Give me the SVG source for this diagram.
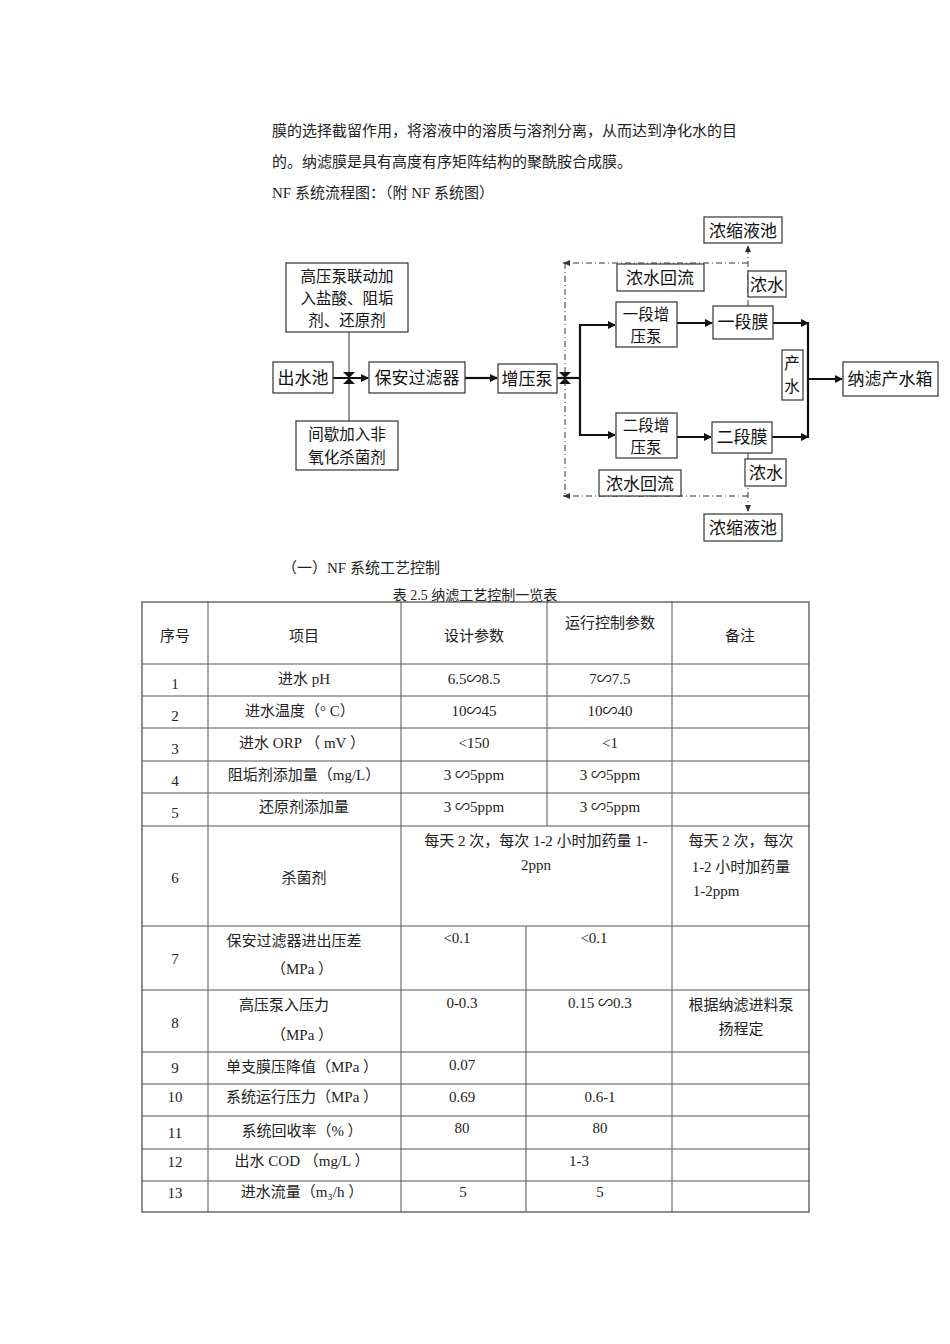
<svg xmlns="http://www.w3.org/2000/svg" width="950" height="1344" viewBox="0 0 950 1344">
<style>
.t{font-family:"Liberation Serif","Noto Sans CJK SC",serif;font-size:15px;fill:#222}
.n{font-family:"Noto Sans CJK SC",sans-serif;font-size:17px;fill:#111}
.m{font-family:"Noto Sans CJK SC",sans-serif;font-size:15.5px;fill:#111}
.bx{fill:#fff;stroke:#333;stroke-width:1.2}
.ln{stroke:#111;stroke-width:2.2;fill:none}
.th{stroke:#333;stroke-width:1;fill:none}
.dd{stroke:#333;stroke-width:1;fill:none;stroke-dasharray:6 3 1 3}
.g{stroke:#555;stroke-width:1}
.c{text-anchor:middle}
</style>
<defs>
<marker id="a" markerWidth="8" markerHeight="8" refX="7" refY="4" orient="auto" markerUnits="userSpaceOnUse"><path d="M0,0L8,4L0,8z" fill="#111"/></marker>
<marker id="s" markerWidth="8" markerHeight="8" refX="7" refY="4" orient="auto" markerUnits="userSpaceOnUse"><path d="M0,1L7,4L0,7z" fill="#333"/></marker>
</defs>
<rect width="950" height="1344" fill="#fff"/>
<text class="t" x="272" y="136">膜的选择截留作用，将溶液中的溶质与溶剂分离，从而达到净化水的目</text>
<text class="t" x="272" y="167">的。纳滤膜是具有高度有序矩阵结构的聚酰胺合成膜。</text>
<text class="t" x="272" y="198">NF 系统流程图：（附 NF 系统图）</text>

<g id="connectors">
<line class="th" x1="349" y1="332" x2="349" y2="421"/>
<line class="ln" x1="333" y1="378" x2="368" y2="378" marker-end="url(#a)"/>
<path d="M343,372L355,372L343,384L355,384z" fill="#111"/>
<line class="ln" x1="465" y1="378" x2="497" y2="378" marker-end="url(#a)"/>
<line class="ln" x1="557" y1="378" x2="580" y2="378"/>
<path d="M559,372L571,372L559,384L571,384z" fill="#111"/>
<polyline class="ln" points="615,325 580,325 580,435 615,435"/>
<line class="ln" x1="580" y1="325" x2="615" y2="325" marker-end="url(#a)"/>
<line class="ln" x1="580" y1="435" x2="615" y2="435" marker-end="url(#a)"/>
<line class="ln" x1="677" y1="323" x2="712" y2="323" marker-end="url(#a)"/>
<line class="ln" x1="677" y1="437" x2="711" y2="437" marker-end="url(#a)"/>
<line class="ln" x1="773" y1="323" x2="808" y2="323" marker-end="url(#a)"/>
<line class="ln" x1="772" y1="437" x2="808" y2="437" marker-end="url(#a)"/>
<line class="ln" x1="808" y1="322" x2="808" y2="438"/>
<line class="ln" x1="808" y1="379" x2="842" y2="379" marker-end="url(#a)"/>
<line class="dd" x1="748" y1="306" x2="748" y2="245" marker-end="url(#s)"/>
<line class="dd" x1="748" y1="453" x2="748" y2="512" marker-end="url(#s)"/>
<line class="dd" x1="748" y1="263" x2="563" y2="263" marker-end="url(#s)"/>
<line class="dd" x1="748" y1="496" x2="563" y2="496" marker-end="url(#s)"/>
<line class="dd" x1="565" y1="263" x2="565" y2="496"/>
</g>

<g id="n1"><rect class="bx" x="286" y="263" width="122" height="69"/><text class="m c" x="347" y="282">高压泵联动加</text><text class="m c" x="347" y="304">入盐酸、阻垢</text><text class="m c" x="347" y="326">剂、还原剂</text></g>
<g id="n2"><rect class="bx" x="273" y="362" width="60" height="31"/><text class="n c" x="303" y="384">出水池</text></g>
<g id="n3"><rect class="bx" x="369" y="362" width="96" height="31"/><text class="n c" x="417" y="384">保安过滤器</text></g>
<g id="n4"><rect class="bx" x="498" y="364" width="59" height="29"/><text class="n c" x="527" y="385">增压泵</text></g>
<g id="n5"><rect class="bx" x="296" y="421" width="102" height="49"/><text class="m c" x="347" y="440">间歇加入非</text><text class="m c" x="347" y="463">氧化杀菌剂</text></g>
<g id="n6"><rect class="bx" x="616" y="302" width="61" height="45"/><text class="m c" x="646" y="320">一段增</text><text class="m c" x="646" y="342">压泵</text></g>
<g id="n7"><rect class="bx" x="616" y="413" width="61" height="45"/><text class="m c" x="646" y="431">二段增</text><text class="m c" x="646" y="453">压泵</text></g>
<g id="n8"><rect class="bx" x="713" y="306" width="60" height="33"/><text class="n c" x="743" y="328">一段膜</text></g>
<g id="n9"><rect class="bx" x="712" y="422" width="60" height="31"/><text class="n c" x="742" y="443">二段膜</text></g>
<g id="n10"><rect class="bx" x="782" y="350" width="21" height="50"/><text class="m c" x="792" y="369">产</text><text class="m c" x="792" y="392">水</text></g>
<g id="n11"><rect class="bx" x="843" y="362" width="95" height="34"/><text class="n c" x="890" y="385">纳滤产水箱</text></g>
<g id="n12"><rect class="bx" x="704" y="217" width="78" height="26"/><text class="n c" x="743" y="237">浓缩液池</text></g>
<g id="n13"><rect class="bx" x="704" y="514" width="78" height="27"/><text class="n c" x="743" y="534">浓缩液池</text></g>
<g id="n14"><rect class="bx" x="748" y="271" width="38" height="26"/><text class="n c" x="767" y="291">浓水</text></g>
<g id="n15"><rect class="bx" x="745" y="459" width="41" height="27"/><text class="n c" x="766" y="479">浓水</text></g>
<g id="n16"><rect class="bx" x="617" y="264" width="87" height="27"/><text class="n c" x="660" y="284">浓水回流</text></g>
<g id="n17"><rect class="bx" x="599" y="470" width="82" height="26"/><text class="n c" x="640" y="490">浓水回流</text></g>

<text class="t" x="282" y="573">（一）NF 系统工艺控制</text>
<text class="t c" x="475" y="600" style="font-size:14px">表 2.5 纳滤工艺控制一览表</text>

<g id="table">
<rect x="142" y="602" width="667" height="610" fill="none" stroke="#444" stroke-width="1.2"/>
<g class="g">
<line x1="142" y1="664" x2="809" y2="664"/><line x1="142" y1="696" x2="809" y2="696"/><line x1="142" y1="728" x2="809" y2="728"/><line x1="142" y1="761" x2="809" y2="761"/><line x1="142" y1="793" x2="809" y2="793"/><line x1="142" y1="826" x2="809" y2="826"/><line x1="142" y1="926" x2="809" y2="926"/><line x1="142" y1="990" x2="809" y2="990"/><line x1="142" y1="1052" x2="809" y2="1052"/><line x1="142" y1="1084" x2="809" y2="1084"/><line x1="142" y1="1116" x2="809" y2="1116"/><line x1="142" y1="1149" x2="809" y2="1149"/><line x1="142" y1="1181" x2="809" y2="1181"/>
<line x1="208" y1="602" x2="208" y2="1212"/><line x1="401" y1="602" x2="401" y2="1212"/><line x1="547" y1="602" x2="547" y2="826"/><line x1="526" y1="926" x2="526" y2="1212"/><line x1="672" y1="602" x2="672" y2="1212"/>
</g>
<g class="t c">
<text x="175" y="641">序号</text><text x="304" y="641">项目</text><text x="474" y="641">设计参数</text><text x="610" y="628">运行控制参数</text><text x="740" y="641">备注</text>
<text x="175" y="689">1</text><text x="304" y="684">进水 pH</text><text x="474" y="684">6.5∽8.5</text><text x="610" y="684">7∽7.5</text>
<text x="175" y="721">2</text><text x="300" y="716">进水温度（° C）</text><text x="474" y="716">10∽45</text><text x="610" y="716">10∽40</text>
<text x="175" y="754">3</text><text x="302" y="748">进水 ORP （ mV ）</text><text x="474" y="748">&lt;150</text><text x="610" y="748">&lt;1</text>
<text x="175" y="786">4</text><text x="304" y="780">阻垢剂添加量（mg/L）</text><text x="474" y="780">3 ∽5ppm</text><text x="610" y="780">3 ∽5ppm</text>
<text x="175" y="818">5</text><text x="304" y="812">还原剂添加量</text><text x="474" y="812">3 ∽5ppm</text><text x="610" y="812">3 ∽5ppm</text>
<text x="175" y="883">6</text><text x="304" y="883">杀菌剂</text><text x="536" y="846">每天 2 次，每次 1-2 小时加药量 1-</text><text x="536" y="870">2ppn</text>
<text x="741" y="846">每天 2 次，每次</text><text x="741" y="872">1-2 小时加药量</text><text x="716" y="896">1-2ppm</text>
<text x="175" y="964">7</text><text x="294" y="946">保安过滤器进出压差</text><text x="302" y="974">（MPa ）</text><text x="457" y="943">&lt;0.1</text><text x="594" y="943">&lt;0.1</text>
<text x="175" y="1028">8</text><text x="284" y="1010">高压泵入压力</text><text x="302" y="1040">（MPa ）</text><text x="462" y="1008">0-0.3</text><text x="600" y="1008">0.15 ∽0.3</text><text x="741" y="1010">根据纳滤进料泵</text><text x="741" y="1034">扬程定</text>
<text x="175" y="1073">9</text><text x="302" y="1072">单支膜压降值（MPa ）</text><text x="462" y="1070">0.07</text>
<text x="175" y="1102">10</text><text x="302" y="1102">系统运行压力（MPa ）</text><text x="462" y="1102">0.69</text><text x="600" y="1102">0.6-1</text>
<text x="175" y="1138">11</text><text x="302" y="1136">系统回收率（% ）</text><text x="462" y="1133">80</text><text x="600" y="1133">80</text>
<text x="175" y="1167">12</text><text x="302" y="1166">出水 COD （mg/L ）</text><text x="579" y="1166">1-3</text>
<text x="175" y="1198">13</text><text x="302" y="1197">进水流量（m₃/h ）</text><text x="463" y="1197">5</text><text x="600" y="1197">5</text>
</g>
</g>
</svg>
